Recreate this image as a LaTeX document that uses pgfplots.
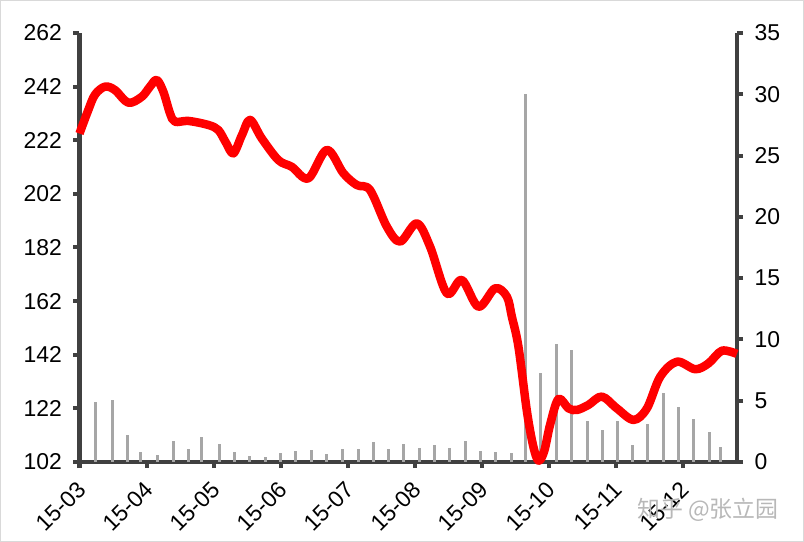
\documentclass[border=0pt]{standalone}
\usepackage{pgfplots}
\pgfplotsset{compat=1.18}
\usepackage{fontspec}
\setmainfont{Liberation Sans}
\newfontfamily\cjk{Noto Sans CJK SC}
\definecolor{axgray}{HTML}{404040}
\definecolor{bargray}{HTML}{A6A6A6}
\definecolor{linered}{HTML}{FF0000}
\definecolor{framegray}{HTML}{D9D9D9}

\pgfplotstableread{
x y
0.246 4.90
0.485 5.06
0.709 2.20
0.903 0.84
1.157 0.57
1.396 1.70
1.619 1.06
1.813 2.04
2.082 1.47
2.306 0.84
2.530 0.49
2.769 0.38
2.993 0.76
3.216 0.90
3.455 0.98
3.679 0.65
3.918 1.06
4.157 1.06
4.381 1.60
4.604 1.06
4.828 1.44
5.067 1.14
5.291 1.36
5.515 1.14
5.754 1.71
5.978 0.90
6.201 0.82
6.440 0.71
6.649 30.0
6.873 7.23
7.112 9.60
7.336 9.13
7.575 3.34
7.799 2.61
8.022 3.34
8.246 1.36
8.470 3.10
8.709 5.60
8.933 4.49
9.157 3.48
9.396 2.45
9.560 1.22
}\bars

\pgfplotstableread{
x y
0.000 224.5
0.127 233.0
0.231 239.0
0.381 242.0
0.530 240.7
0.728 236.0
0.928 238.2
1.052 242.0
1.152 244.5
1.251 240.1
1.351 232.0
1.425 228.9
1.624 229.2
1.922 227.7
2.072 225.8
2.187 221.0
2.296 217.1
2.425 224.0
2.545 229.6
2.719 222.7
2.967 214.6
3.167 212.1
3.415 207.8
3.690 218.4
3.937 209.7
4.137 205.3
4.336 203.4
4.585 189.8
4.784 184.2
5.033 191.0
5.231 182.3
5.481 164.9
5.704 169.9
5.952 159.9
6.201 166.8
6.376 163.7
6.451 156.2
6.549 145.0
6.675 121.0
6.769 108.0
6.848 102.5
6.933 106.0
7.022 116.0
7.146 125.5
7.296 122.0
7.421 121.4
7.594 123.3
7.794 126.4
8.018 122.0
8.266 117.7
8.466 122.0
8.664 133.8
8.913 139.4
9.187 136.6
9.385 138.8
9.585 143.5
9.809 142.3
}\price

\pgfplotsset{
  common/.style={
    scale only axis, width=657.5bp, height=429bp,
    xmin=0, xmax=9.81,
    axis line style={axgray, line width=4bp},
    every tick/.style={axgray, line width=4bp},
    major tick length=6bp,
    tick align=outside,
    tick label style={font=\fontsize{23}{26}\selectfont, /pgf/number format/assume math mode=true},
  }
}

\begin{document}
\begin{tikzpicture}
\begin{axis}[common,
  ymin=0, ymax=35, ytick={0,5,...,35},
  axis y line*=right, axis x line*=bottom,
  yticklabel style={xshift=8bp},
  xtick={0,1,...,9},
  xticklabels={15-03,15-04,15-05,15-06,15-07,15-08,15-09,15-10,15-11,15-12},
  xticklabel style={rotate=45, anchor=north east, xshift=-7.5bp, yshift=-2.5bp},
  clip=false]
\addplot[ycomb, draw=bargray, line width=3bp, mark=none] table[x=x,y=y] {\bars};
\end{axis}
\begin{axis}[common,
  ymin=102, ymax=262, ytick={102,122,...,262},
  axis y line*=left, axis x line=none,
  yticklabel style={xshift=-8bp},
  clip=false]
\addplot[linered, line width=8.5bp, smooth, tension=0.55, line join=round] table[x=x,y=y] {\price};
\coordinate (sw) at (rel axis cs:0,0);
\coordinate (ne) at (rel axis cs:1,1);
\end{axis}
\node[text=black!28, font=\cjk\fontsize{23}{26}\selectfont] at ([shift={(-29bp,-48bp)}]ne |- sw) {知乎 @张立园};
\draw[framegray, line width=1bp] ([shift={(-79bp,-79.5bp)}]sw) rectangle ([shift={(66.5bp,32.5bp)}]ne);
\end{tikzpicture}
\end{document}
